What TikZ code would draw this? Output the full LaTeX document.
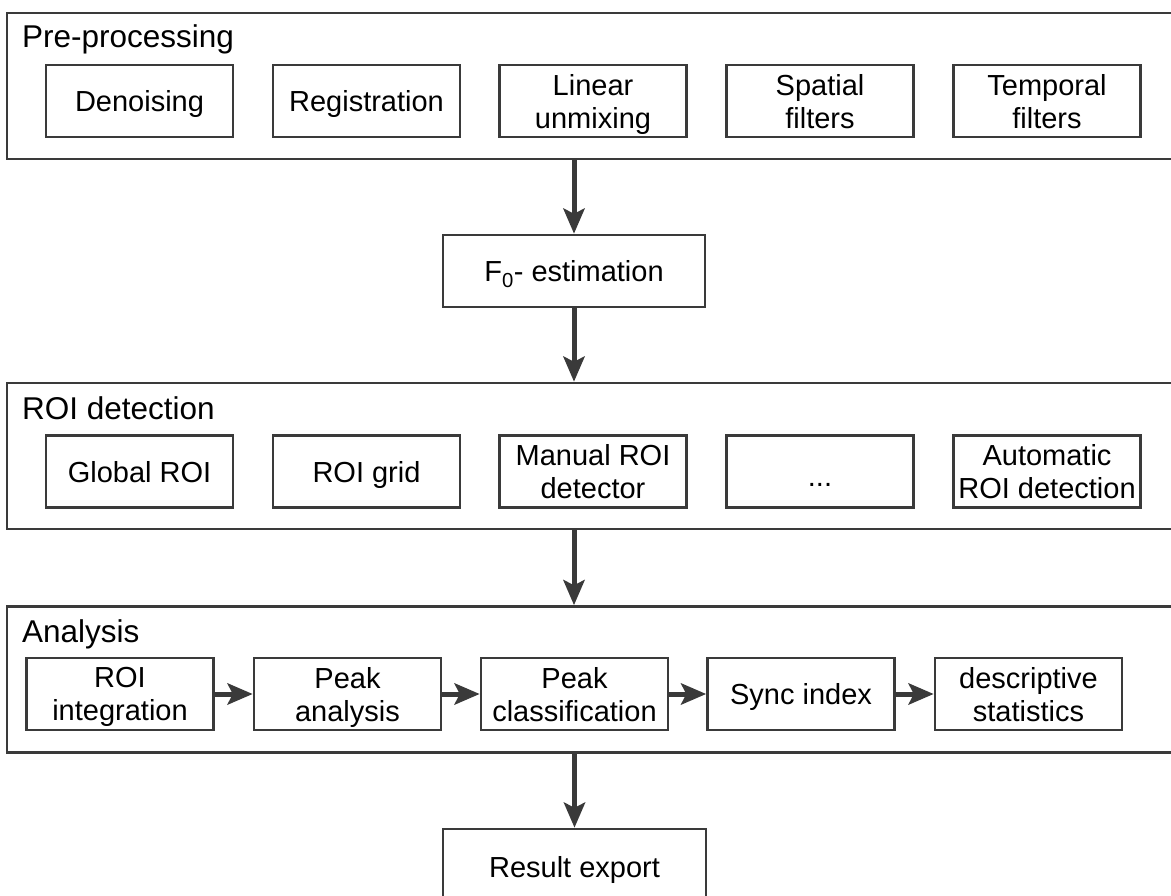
\documentclass[tikz,border=0pt]{standalone}
\usepackage{fontspec}
\setmainfont{Liberation Sans}
\usetikzlibrary{arrows.meta}
\definecolor{linegray}{HTML}{3A3A3A}

\begin{document}
\begin{tikzpicture}[x=1pt,y=-1pt,
  frame/.style={draw=linegray, line width=2.6pt, minimum width=1168pt, minimum height=146pt, inner sep=0pt},
  stage/.style={draw=linegray, line width=2.6pt, minimum width=187pt, minimum height=72pt, inner sep=0pt, text depth=0pt, align=center, font=\fontsize{29}{33}\selectfont},
  title/.style={anchor=base west, inner sep=0pt, font=\fontsize{31.5}{36}\selectfont},
  flow/.style={draw=linegray, line width=5pt, -{Stealth[length=25pt,width=21pt,inset=5pt]}}]

\useasboundingbox (0,0) rectangle (1171,896);

% --- Frames ---
\node[frame] (pre) at (591,86) {};
\node[frame] (roi) at (591,456) {};
\node[frame] (ana) at (591,679.5) {};

\node[title] (pretitle) at (22,48) {Pre-processing};
\node[title] (roititle) at (22,419) {ROI detection};
\node[title] (anatitle) at (22,642) {Analysis};

% --- Pre-processing ---
\node[stage] (denoise) at (139.5,101) {Denoising};
\node[stage] (regist) at (366.5,101) {Registration};
\node[stage] (unmix) at (593,101) {Linear\\unmixing};
\node[stage] (spatial) at (820,101) {Spatial\\filters};
\node[stage] (temporal) at (1047,101) {Temporal\\filters};

% --- F0 ---
\node[stage, minimum width=262pt] (f0) at (574,271) {F\textsubscript{0}- estimation};

% --- ROI detection ---
\node[stage] (global) at (139.5,471.5) {Global ROI};
\node[stage] (grid) at (366.5,471.5) {ROI grid};
\node[stage] (manual) at (593,471.5) {Manual ROI\\detector};
\node[stage, text height=30pt] (more) at (820,471.5) {...};
\node[stage] (auto) at (1047,471.5) {Automatic\\ROI detection};

% --- Analysis ---
\node[stage] (integ) at (120,694) {ROI\\integration};
\node[stage] (peak) at (347.5,694) {Peak\\analysis};
\node[stage] (class) at (574.5,694) {Peak\\classification};
\node[stage] (sync) at (801,694) {Sync index};
\node[stage] (stats) at (1028.5,694) {descriptive\\statistics};

\foreach \a/\b in {integ/peak, peak/class, class/sync, sync/stats}
  \draw[flow] (\a) -- (\b);

% --- Export ---
\node[stage, minimum width=263pt, minimum height=76pt] (export) at (574.5,867) {Result export};

% --- Frecce ---
\draw[flow] (f0.north |- pre.south) -- (f0.north);
\draw[flow] (f0.south) -- (f0.south |- roi.north);
\draw[flow] (f0.south |- roi.south) -- (f0.south |- ana.north);
\draw[flow] (export.north |- ana.south) -- (export.north);

\end{tikzpicture}
\end{document}
